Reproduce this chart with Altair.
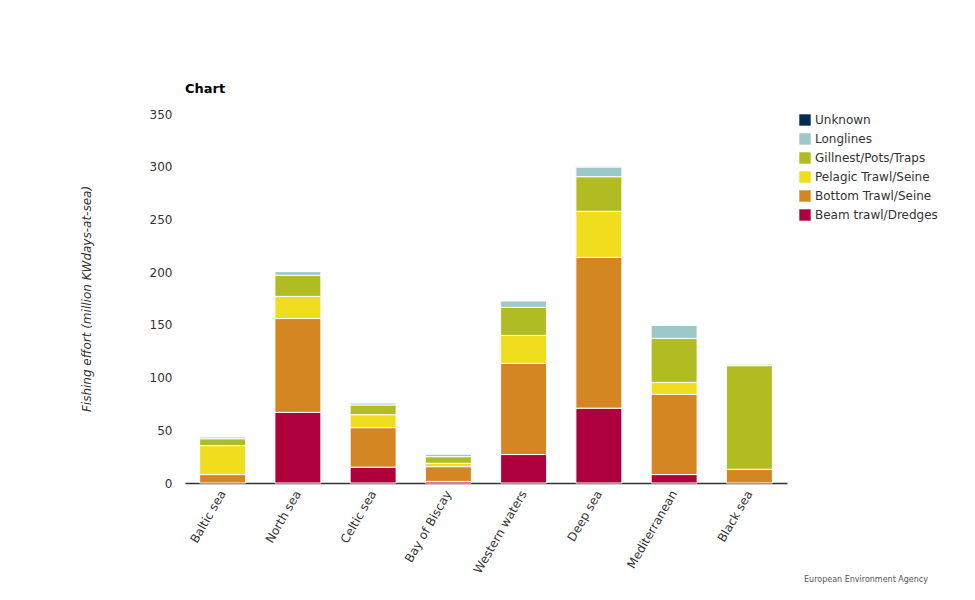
import altair as alt
import pandas as pd

regions = ["Baltic sea", "North sea", "Celtic sea", "Bay of Biscay",
           "Western waters", "Deep sea", "Mediterranean", "Black sea"]
gears = ["Unknown", "Longlines", "Gillnest/Pots/Traps", "Pelagic Trawl/Seine",
         "Bottom Trawl/Seine", "Beam trawl/Dredges"]
colors = ["#002b55", "#9dc8c8", "#b0bc22", "#efdd1e", "#d48623", "#ad003c"]

beam = [0, 67, 15, 1.5, 27, 71, 8, 0]
bottom = [8, 89, 37.5, 14, 86.5, 143, 76, 13]
pelagic = [27.5, 21, 12.3, 3.2, 26.5, 43.7, 11.4, 0]
gillnet = [6.5, 20, 9.2, 6.3, 26.6, 32.8, 41.8, 98.3]
longlines = [1.8, 3.5, 1.8, 2.5, 6, 9, 12.3, 1.4]
unknown = [0.4, 0, 0, 0.4, 0, 0.8, 0, 0]

series = {
    "Beam trawl/Dredges": beam,
    "Bottom Trawl/Seine": bottom,
    "Pelagic Trawl/Seine": pelagic,
    "Gillnest/Pots/Traps": gillnet,
    "Longlines": longlines,
    "Unknown": unknown,
}
rows = []
for k, (g, vals) in enumerate(series.items()):
    for r, v in zip(regions, vals):
        rows.append({"Region": r, "Gear": g, "Value": v, "ord": k})
df = pd.DataFrame(rows)

FONT = "DejaVu Sans"

bars = alt.Chart(df).transform_filter("datum.Value > 0").mark_bar(
    stroke="white", strokeWidth=1, size=46
).encode(
    x=alt.X("Region:N", sort=regions, title=None,
            scale=alt.Scale(paddingInner=0.38, paddingOuter=0.19),
            axis=alt.Axis(labelAngle=-60, labelFontSize=12, labelColor="#333333",
                          domainColor="#333333", domainWidth=1.5, ticks=False,
                          labelPadding=8, labelFont=FONT)),
    y=alt.Y("Value:Q", title="Fishing effort (million KWdays-at-sea)",
            scale=alt.Scale(domain=[0, 350]),
            axis=alt.Axis(values=[0, 50, 100, 150, 200, 250, 300, 350], grid=False,
                          domain=False, ticks=False, labelPadding=13,
                          labelFontSize=12, labelColor="#333333", labelFont=FONT,
                          titleFont=FONT, titleFontStyle="italic",
                          titleFontWeight="normal", titleFontSize=12,
                          titleColor="#333333", titlePadding=56)),
    color=alt.Color("Gear:N", scale=alt.Scale(domain=gears, range=colors),
                    legend=alt.Legend(title=None, orient="none", legendX=614,
                                      legendY=0, symbolType="square",
                                      symbolSize=130, symbolStrokeWidth=0,
                                      labelFontSize=12, labelFont=FONT,
                                      labelColor="#333333", rowPadding=7)),
    order=alt.Order("ord:Q", sort="ascending"),
)

footer = alt.Chart(pd.DataFrame({"t": ["European Environment Agency"]})).mark_text(
    align="right", baseline="middle", fontSize=8, color="#555555", font=FONT
).encode(x=alt.value(743), y=alt.value(466), text="t:N")

chart = alt.layer(bars, footer).properties(
    width=602, height=369,
    title=alt.TitleParams("Chart", anchor="start", frame="group", fontSize=13,
                          font=FONT, fontWeight="bold", color="#000000", offset=12),
    padding={"left": 177, "top": 106, "right": 180, "bottom": 109},
    autosize=alt.AutoSizeParams(type="none"),
).configure_view(stroke=None)

chart.save("out.html", embed_options={"renderer": "svg", "actions": False})
